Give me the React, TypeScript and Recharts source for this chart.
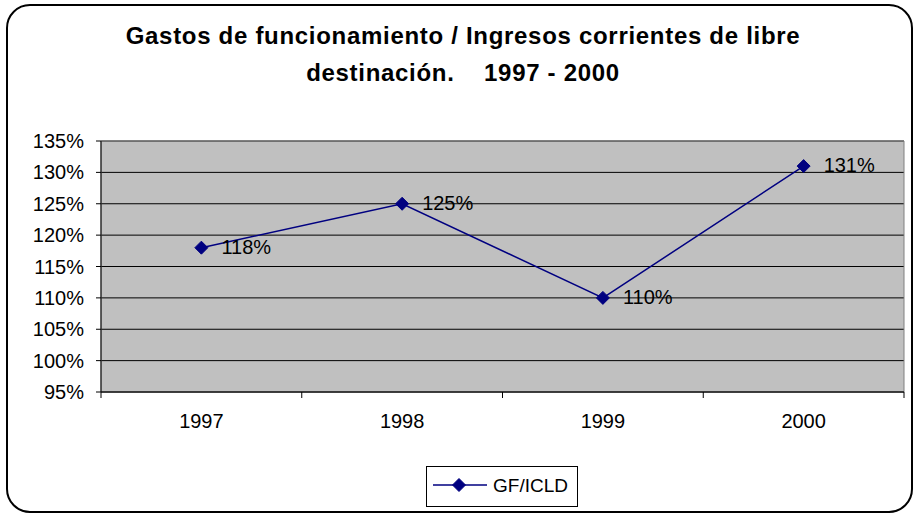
import React from 'react'
import {
  LineChart,
  Line,
  XAxis,
  YAxis,
  CartesianGrid,
  ReferenceArea,
  LabelList,
} from 'recharts'

const years = ['1997', '1998', '1999', '2000']
const gfIcld = [1.18, 1.25, 1.1, 1.31]
const yTicks = [0.95, 1.0, 1.05, 1.1, 1.15, 1.2, 1.25, 1.3, 1.35]
const seriesName = 'GF/ICLD'
const titleLines = [
  'Gastos de funcionamiento / Ingresos corrientes de libre',
  'destinación.    1997 - 2000',
]

const data = years.map((year, i) => ({ year, value: gfIcld[i] }))

const FONT = '"Liberation Sans", Arial, sans-serif'
const NAVY = '#000080'
const PLOT_LEFT = 101
const PLOT_RIGHT = 904
const HALF_BAND = (PLOT_RIGHT - PLOT_LEFT) / years.length / 2

const pct = (v: number) => `${Math.round(v * 100)}%`

function Diamond(props: any) {
  const { cx, cy } = props
  if (cx == null || cy == null) return null
  const r = 6.5
  return (
    <polygon
      points={`${cx},${cy - r} ${cx + r},${cy} ${cx},${cy + r} ${cx - r},${cy}`}
      fill={NAVY}
      stroke={NAVY}
    />
  )
}

function YearTick(props: any) {
  const { x, y, payload, index } = props
  const last = index === years.length - 1
  return (
    <g>
      <line x1={x - HALF_BAND} x2={x - HALF_BAND} y1={y} y2={y + 6} stroke="#000" />
      {last && <line x1={x + HALF_BAND} x2={x + HALF_BAND} y1={y} y2={y + 6} stroke="#000" />}
      <text x={x} y={y + 36} textAnchor="middle" fill="#000" fontSize={20} fontFamily={FONT}>
        {payload.value}
      </text>
    </g>
  )
}

export default function App() {
  return (
    <div style={{ position: 'absolute', left: 0, top: 0, width: 915, height: 515, background: '#fff', fontFamily: FONT }}>
      <div
        style={{
          position: 'absolute',
          left: 6,
          top: 4,
          width: 907,
          height: 509,
          boxSizing: 'border-box',
          border: '2px solid #000',
          borderRadius: 24,
        }}
      />
      {titleLines.map((t, i) => (
        <div
          key={i}
          style={{
            position: 'absolute',
            left: 0,
            width: 926,
            top: 23.5 + i * 37,
            textAlign: 'center',
            fontSize: 24,
            lineHeight: '24px',
            fontWeight: 'bold',
            letterSpacing: 0.7,
            whiteSpace: 'pre',
            color: '#000',
          }}
        >
          {t}
        </div>
      ))}
      <div style={{ position: 'absolute', left: 0, top: 0 }}>
        <LineChart
          width={915}
          height={515}
          data={data}
          margin={{ top: 141, right: 915 - PLOT_RIGHT, bottom: 93, left: 0 }}
        >
          <CartesianGrid vertical={false} stroke="#000" fill="#C0C0C0" fillOpacity={1} />
          <ReferenceArea y1={0.95} y2={1.35} fill="none" stroke="#808080" strokeWidth={1} ifOverflow="visible" />
          <XAxis
            dataKey="year"
            scale="band"
            height={30}
            axisLine={{ stroke: '#000' }}
            tickLine={false}
            tickSize={0}
            tickMargin={0}
            tick={<YearTick />}
            interval={0}
          />
          <YAxis
            width={PLOT_LEFT}
            domain={[0.95, 1.35]}
            ticks={yTicks}
            tickFormatter={pct}
            axisLine={{ stroke: '#000' }}
            tickLine={{ stroke: '#000' }}
            tickSize={5}
            tickMargin={12}
            tick={{ fill: '#000', fontSize: 20, fontFamily: FONT }}
            interval={0}
          />
          <Line
            dataKey="value"
            name={seriesName}
            stroke={NAVY}
            strokeWidth={1.5}
            dot={<Diamond />}
            activeDot={false}
            isAnimationActive={false}
          >
            <LabelList
              dataKey="value"
              position="right"
              offset={20}
              dy={-1}
              formatter={(v: any) => pct(Number(v))}
              fill="#000"
              fontSize={20}
              fontFamily={FONT}
            />
          </Line>
        </LineChart>
      </div>
      <div
        style={{
          position: 'absolute',
          left: 426,
          top: 466,
          width: 152,
          height: 41,
          boxSizing: 'border-box',
          border: '1px solid #000',
          background: '#fff',
        }}
      >
        <svg width={150} height={39} style={{ position: 'absolute', left: 0, top: 0 }}>
          <line x1={6} x2={60} y1={18} y2={18} stroke={NAVY} strokeWidth={1.5} />
          <Diamond cx={32} cy={18} />
          <text x={66} y={25} fontSize={19} fontFamily={FONT} fill="#000">
            {seriesName}
          </text>
        </svg>
      </div>
    </div>
  )
}
